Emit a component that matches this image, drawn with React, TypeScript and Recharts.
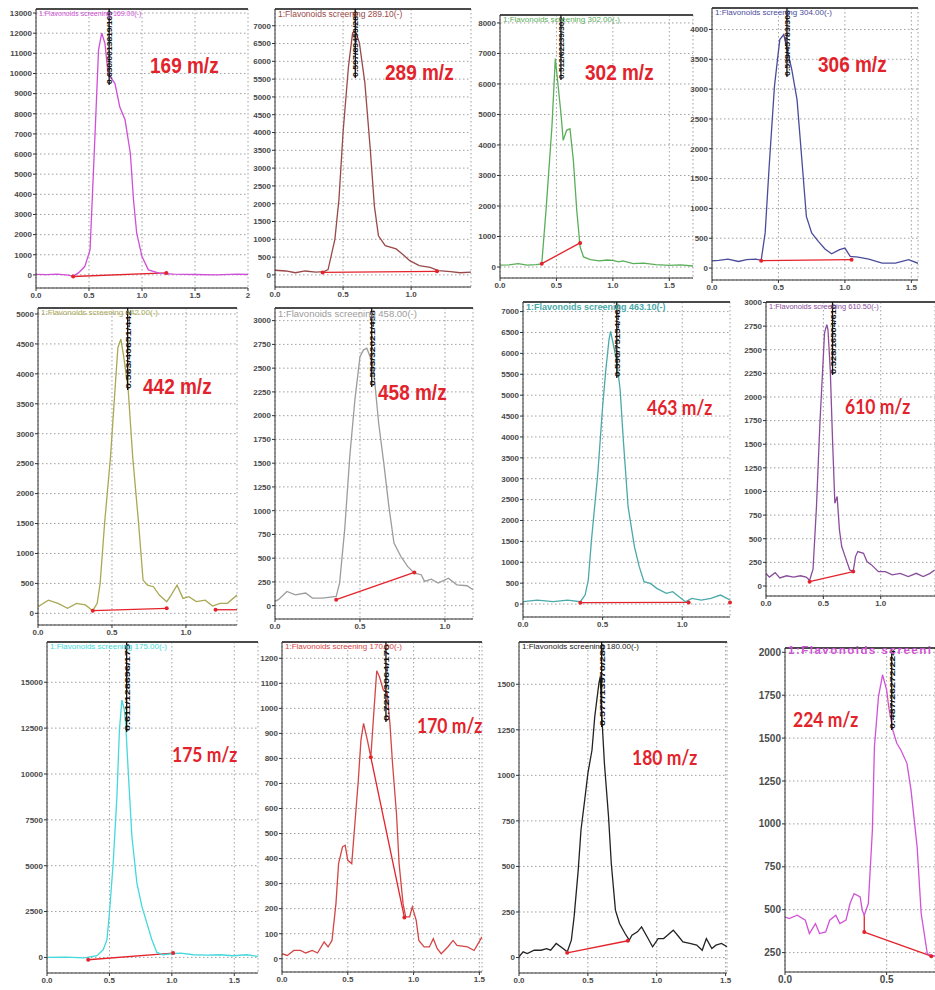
import React from "react";
import {
  CartesianGrid,
  Line,
  LineChart,
  ReferenceDot,
  ReferenceLine,
  XAxis,
  YAxis,
} from "recharts";

type Pt = [number, number];

// retention time (min) / intensity
const t169 = [0, 0.1, 0.2, 0.3, 0.35, 0.4, 0.46, 0.51, 0.557, 0.59, 0.62, 0.65, 0.68, 0.745, 0.79, 0.84, 0.89, 0.92, 0.95, 1.0, 1.06, 1.17, 1.3, 1.5, 1.7, 1.9, 2.0];
const i169 = [30, 10, 40, -10, -60, 100, 413, 1240, 7000, 11170, 12000, 11500, 10000, 9500, 8350, 7700, 6040, 3720, 2070, 910, 250, 80, 40, 20, 0, 40, 20];

const t289 = [0, 0.08, 0.15, 0.22, 0.3, 0.36, 0.39, 0.44, 0.47, 0.5, 0.54, 0.57, 0.59, 0.62, 0.66, 0.7, 0.73, 0.76, 0.81, 0.89, 0.95, 0.99, 1.06, 1.14, 1.2, 1.29, 1.36, 1.44];
const i289 = [130, 110, 60, 110, 80, 90, 150, 1000, 2130, 4000, 5860, 6800, 6850, 6520, 5400, 3530, 1940, 1100, 820, 730, 540, 400, 260, 210, 120, 90, 60, 80];

const t302 = [0, 0.08, 0.16, 0.24, 0.32, 0.37, 0.41, 0.46, 0.49, 0.51, 0.54, 0.56, 0.59, 0.62, 0.65, 0.68, 0.71, 0.74, 0.8, 0.88, 0.95, 1.0, 1.05, 1.09, 1.18, 1.27, 1.38, 1.5, 1.6, 1.71];
const i302 = [60, 70, 110, 60, 80, 100, 1970, 4590, 6830, 6120, 5030, 4150, 4480, 4535, 3500, 1860, 655, 330, 240, 200, 230, 220, 170, 200, 110, 130, 77, 55, 70, 33];

const t306 = [0, 0.05, 0.12, 0.2, 0.26, 0.33, 0.37, 0.4, 0.43, 0.47, 0.51, 0.54, 0.56, 0.6, 0.64, 0.66, 0.69, 0.71, 0.75, 0.8, 0.85, 0.9, 0.96, 1.0, 1.04, 1.1, 1.18, 1.28, 1.38, 1.48, 1.55];
const i306 = [120, 130, 150, 110, 140, 150, 130, 590, 1700, 3050, 3830, 3915, 3720, 3330, 2820, 2265, 1426, 867, 590, 447, 320, 240, 310, 336, 196, 185, 150, 84, 84, 140, 80];

const t442 = [0, 0.07, 0.135, 0.2, 0.26, 0.32, 0.37, 0.4, 0.42, 0.45, 0.49, 0.52, 0.54, 0.56, 0.58, 0.61, 0.64, 0.68, 0.71, 0.74, 0.78, 0.82, 0.87, 0.9, 0.94, 0.98, 1.02, 1.07, 1.13, 1.18, 1.23, 1.28, 1.345];
const i442 = [110, 220, 165, 83, 167, 140, 44, 167, 500, 1500, 2610, 3720, 4440, 4580, 4280, 3720, 2610, 1500, 555, 470, 444, 305, 195, 305, 470, 250, 278, 195, 220, 122, 167, 167, 305];

const t458 = [0, 0.02, 0.07, 0.12, 0.18, 0.22, 0.28, 0.36, 0.38, 0.41, 0.44, 0.47, 0.5, 0.52, 0.54, 0.56, 0.58, 0.61, 0.64, 0.67, 0.7, 0.74, 0.78, 0.82, 0.86, 0.88, 0.92, 0.96, 1.02, 1.07, 1.13, 1.165];
const i458 = [46, 63, 150, 115, 133, 80, 80, 98, 238, 800, 1570, 2166, 2620, 2690, 2710, 2620, 2480, 1920, 1500, 1045, 660, 520, 413, 343, 326, 256, 280, 238, 290, 220, 210, 168];

const t463 = [0, 0.09, 0.19, 0.28, 0.36, 0.39, 0.41, 0.43, 0.47, 0.5, 0.52, 0.54, 0.55, 0.57, 0.59, 0.61, 0.63, 0.66, 0.7, 0.73, 0.76, 0.8, 0.84, 0.9, 0.94, 0.98, 1.02, 1.06, 1.12, 1.18, 1.24, 1.3];
const i463 = [56, 96, 56, 96, 56, 216, 575, 1530, 3130, 4730, 5600, 6325, 6525, 6165, 5770, 5130, 3930, 2330, 1370, 895, 535, 495, 375, 255, 295, 175, 56, 136, 96, 136, 215, 96];

const t610 = [0, 0.03, 0.08, 0.12, 0.18, 0.24, 0.3, 0.35, 0.38, 0.41, 0.44, 0.47, 0.5, 0.51, 0.53, 0.54, 0.56, 0.58, 0.6, 0.62, 0.64, 0.66, 0.69, 0.73, 0.76, 0.78, 0.8, 0.85, 0.88, 0.92, 0.98, 1.04, 1.1, 1.17, 1.24, 1.31, 1.37, 1.43, 1.47];
const i610 = [132, 94, 141, 85, 108, 94, 108, 94, 61, 179, 841, 1724, 2430, 2678, 2766, 2714, 2290, 1548, 876, 947, 594, 417, 311, 170, 152, 311, 364, 346, 258, 223, 152, 152, 117, 134, 99, 134, 99, 134, 170];

const t175 = [0, 0.15, 0.3, 0.4, 0.45, 0.48, 0.5, 0.53, 0.56, 0.58, 0.6, 0.62, 0.63, 0.65, 0.68, 0.72, 0.76, 0.8, 0.84, 0.88, 0.93, 1.0, 1.07, 1.17, 1.28, 1.39, 1.49, 1.6, 1.69];
const i175 = [0, 20, -30, 90, 417, 960, 2410, 5135, 8765, 12395, 14030, 13485, 12760, 10218, 6590, 4050, 2780, 1870, 960, 272, 145, 200, 236, 145, 127, 145, 90, 145, 54];

const t170 = [0, 0.04, 0.09, 0.14, 0.18, 0.23, 0.27, 0.32, 0.35, 0.38, 0.41, 0.43, 0.46, 0.48, 0.5, 0.53, 0.55, 0.58, 0.6, 0.62, 0.65, 0.675, 0.7, 0.72, 0.74, 0.77, 0.8, 0.82, 0.84, 0.87, 0.89, 0.92, 0.94, 0.97, 0.99, 1.02, 1.04, 1.08, 1.12, 1.15, 1.18, 1.21, 1.26, 1.3, 1.33, 1.41, 1.46, 1.52];
const i170 = [20, 13, 33, 33, 23, 33, 23, 67, 47, 73, 220, 380, 447, 453, 393, 380, 513, 713, 873, 940, 870, 805, 1000, 1150, 1127, 1073, 1060, 940, 780, 580, 380, 220, 167, 167, 207, 153, 73, 47, 47, 80, 40, 20, 47, 73, 53, 47, 33, 87];

const t180 = [0, 0.03, 0.06, 0.11, 0.16, 0.2, 0.23, 0.27, 0.32, 0.35, 0.38, 0.4, 0.43, 0.45, 0.48, 0.5, 0.53, 0.55, 0.58, 0.59, 0.6, 0.62, 0.65, 0.67, 0.7, 0.73, 0.77, 0.8, 0.82, 0.86, 0.89, 0.93, 0.97, 1.01, 1.05, 1.08, 1.12, 1.16, 1.19, 1.24, 1.29, 1.33, 1.36, 1.4, 1.43, 1.47, 1.51];
const i180 = [4, 31, 22, 40, 40, 49, 40, 77, 49, 31, 95, 223, 480, 700, 883, 1011, 1139, 1322, 1505, 1542, 1340, 1066, 773, 516, 260, 187, 132, 95, 123, 141, 168, 114, 59, 104, 104, 123, 150, 114, 86, 77, 68, 40, 104, 49, 68, 77, 59];

const t224 = [0, 0.02, 0.06, 0.1, 0.12, 0.15, 0.17, 0.2, 0.22, 0.25, 0.27, 0.3, 0.32, 0.34, 0.37, 0.38, 0.39, 0.41, 0.43, 0.44, 0.46, 0.48, 0.5, 0.51, 0.53, 0.55, 0.57, 0.6, 0.62, 0.65, 0.67, 0.7, 0.72, 0.74];
const i224 = [458, 448, 468, 439, 361, 419, 361, 371, 439, 468, 419, 439, 536, 594, 575, 497, 468, 536, 964, 1450, 1742, 1869, 1781, 1684, 1548, 1470, 1431, 1353, 1197, 867, 478, 244, 234, 230];

// integration baselines (red)
const cut169: Pt[] = [[0.35, -80], [1.23, 100]];
const cut289: Pt[] = [[0.35, 70], [1.19, 100]];
const cut302: Pt[] = [[0.37, 110], [0.71, 790]];
const cut306: Pt[] = [[0.37, 123], [1.05, 140]];
const cut442: Pt[] = [[0.37, 44], [0.87, 83]];
const tail442: Pt[] = [[1.2, 60], [1.345, 60]];
const cut458: Pt[] = [[0.36, 63], [0.82, 350]];
const cut463: Pt[] = [[0.36, 32], [1.04, 40]];
const cut610: Pt[] = [[0.38, 46], [0.76, 152]];
const cut175: Pt[] = [[0.33, -127], [1.01, 236]];
const cut170: Pt[] = [[0.675, 805], [0.93, 165]];
const cut180: Pt[] = [[0.35, 26], [0.79, 92]];
const cut224: Pt[] = [[0.39, 470], [0.39, 370], [0.72, 229]];

// axis ticks
const ticksX169 = [0, 0.5, 1, 1.5, 2];
const ticksX15 = [0, 0.5, 1, 1.5];
const ticksX10 = [0, 0.5, 1];
const ticksX05 = [0, 0.5];
const ticksY169 = [0, 1000, 2000, 3000, 4000, 5000, 6000, 7000, 8000, 9000, 10000, 11000, 12000, 13000];
const ticksY289 = [0, 500, 1000, 1500, 2000, 2500, 3000, 3500, 4000, 4500, 5000, 5500, 6000, 6500, 7000];
const ticksY302 = [0, 1000, 2000, 3000, 4000, 5000, 6000, 7000, 8000];
const ticksY306 = [0, 500, 1000, 1500, 2000, 2500, 3000, 3500, 4000];
const ticksY442 = [0, 500, 1000, 1500, 2000, 2500, 3000, 3500, 4000, 4500, 5000];
const ticksY458 = [0, 250, 500, 750, 1000, 1250, 1500, 1750, 2000, 2250, 2500, 2750, 3000];
const ticksY175 = [0, 2500, 5000, 7500, 10000, 12500, 15000];
const ticksY170 = [0, 100, 200, 300, 400, 500, 600, 700, 800, 900, 1000, 1100, 1200];
const ticksY180 = [0, 250, 500, 750, 1000, 1250, 1500];
const ticksY224 = [250, 500, 750, 1000, 1250, 1500, 1750, 2000];

const RED = "#e3232b";
const ARIAL = "'Liberation Sans', Arial, sans-serif";
const CALIBRI = "Lato, 'Open Sans', sans-serif";

type PanelDef = {
  mz: string;
  title: string;
  peakText: string;
  times: number[];
  values: number[];
  xTicks: number[];
  yTicks: number[];
  cuts: Pt[][];
  marks?: Pt[];
  color: string;
  left: number;
  top: number;
  right: number;
  bottom: number;
  xMax: number;
  yMin: number;
  yMax: number;
  peakAt: number;
  peakLen: number;
  mzX: number;
  mzY: number;
  mzFont: string;
  mzSize: number;
  titleSize: number;
  titleBold?: boolean;
  titleDy?: number;
  titleSpacing?: number;
  tickFont?: number;
  yw?: number;
};

const panels: PanelDef[] = [
  {
    mz: "169 m/z", title: "1:Flavonoids screening 169.00(-)", peakText: "0.630/0013819/169",
    times: t169, values: i169, xTicks: ticksX169, yTicks: ticksY169, cuts: [cut169],
    color: "#d04fd8", left: 36, top: 9, right: 248, bottom: 288, xMax: 2, yMin: -650, yMax: 13200,
    peakAt: 0.69, peakLen: 76, mzX: 150, mzY: 66, mzFont: ARIAL, mzSize: 19, titleSize: 7,
  },
  {
    mz: "289 m/z", title: "1:Flavonoids screening 289.10(-)", peakText: "0.597/89459/289",
    times: t289, values: i289, xTicks: ticksX10, yTicks: ticksY289, cuts: [cut289],
    color: "#9a4848", left: 275, top: 9, right: 471, bottom: 287, xMax: 1.44, yMin: -340, yMax: 7470,
    peakAt: 0.59, peakLen: 69, mzX: 385, mzY: 73, mzFont: ARIAL, mzSize: 19, titleSize: 8.5,
  },
  {
    mz: "302 m/z", title: "1:Flavonoids screening 302.00(-)", peakText: "0.512/62239/302",
    times: t302, values: i302, xTicks: ticksX15, yTicks: ticksY302, cuts: [cut302],
    color: "#5aae5a", left: 500, top: 15, right: 693, bottom: 278, xMax: 1.71, yMin: -360, yMax: 8260,
    peakAt: 0.54, peakLen: 65, mzX: 585, mzY: 73, mzFont: ARIAL, mzSize: 19, titleSize: 8,
  },
  {
    mz: "306 m/z", title: "1:Flavonoids screening 304.00(-)", peakText: "0.539/45783/306",
    times: t306, values: i306, xTicks: ticksX15, yTicks: ticksY306, cuts: [cut306],
    color: "#4b4b9c", left: 712, top: 8, right: 918, bottom: 280, xMax: 1.55, yMin: -200, yMax: 4360,
    peakAt: 0.564, peakLen: 69, mzX: 818, mzY: 65, mzFont: ARIAL, mzSize: 19, titleSize: 8,
  },
  {
    mz: "442 m/z", title: "1:Flavonoids screening 442.00(-)", peakText: "0.563/40651/442",
    times: t442, values: i442, xTicks: ticksX10, yTicks: ticksY442, cuts: [cut442, tail442],
    marks: [[0.37, 44], [0.87, 83], [1.2, 60]],
    color: "#a9a853", left: 38, top: 308, right: 237, bottom: 625, xMax: 1.345, yMin: -195, yMax: 5100,
    peakAt: 0.606, peakLen: 82, mzX: 143, mzY: 387, mzFont: ARIAL, mzSize: 19, titleSize: 8,
  },
  {
    mz: "458 m/z", title: "1:Flavonoids screening 458.00(-)", peakText: "0.553/32021/458",
    times: t458, values: i458, xTicks: ticksX10, yTicks: ticksY458, cuts: [cut458],
    color: "#9c9c9c", left: 275, top: 308, right: 473, bottom: 619, xMax: 1.165, yMin: -140, yMax: 3133,
    peakAt: 0.569, peakLen: 79, mzX: 378, mzY: 393, mzFont: ARIAL, mzSize: 19, titleSize: 9.5,
  },
  {
    mz: "463 m/z", title: "1:Flavonoids screening 463.10(-)", peakText: "0.590/75154/463",
    times: t463, values: i463, xTicks: ticksX10, yTicks: ticksY289, cuts: [cut463],
    marks: [[0.36, 32], [1.04, 40], [1.3, 40]],
    color: "#4aa9a9", left: 523, top: 302, right: 730, bottom: 617, xMax: 1.3, yMin: -310, yMax: 7230,
    peakAt: 0.589, peakLen: 76, mzX: 647, mzY: 408, mzFont: CALIBRI, mzSize: 17.5, titleSize: 9, titleBold: true,
  },
  {
    mz: "610 m/z", title: "1:Flavonoids screening 610.50(-)", peakText: "0.528/16504/610",
    times: t610, values: i610, xTicks: ticksX10, yTicks: ticksY458, cuts: [cut610],
    color: "#8a4d9c", left: 766, top: 302, right: 935, bottom: 596, xMax: 1.473, yMin: -106, yMax: 3005,
    peakAt: 0.58, peakLen: 73, mzX: 845, mzY: 407, mzFont: CALIBRI, mzSize: 17.5, titleSize: 7.5,
  },
  {
    mz: "175 m/z", title: "1:Flavonoids screening 175.00(-)", peakText: "0.611/128696/175",
    times: t175, values: i175, xTicks: ticksX15, yTicks: ticksY175, cuts: [cut175],
    color: "#45d8dc", left: 47, top: 642, right: 258, bottom: 973, xMax: 1.69, yMin: -850, yMax: 17195,
    peakAt: 0.638, peakLen: 90, mzX: 172, mzY: 755, mzFont: CALIBRI, mzSize: 17.5, titleSize: 8,
  },
  {
    mz: "170 m/z", title: "1:Flavonoids screening 170.00(-)", peakText: "0.727/3064/170",
    times: t170, values: i170, xTicks: ticksX15, yTicks: ticksY170, cuts: [cut170],
    color: "#d44545", left: 282, top: 642, right: 482, bottom: 972, xMax: 1.52, yMin: -53, yMax: 1265,
    peakAt: 0.79, peakLen: 80, mzX: 417, mzY: 726, mzFont: CALIBRI, mzSize: 17.5, titleSize: 8,
  },
  {
    mz: "180 m/z", title: "1:Flavonoids screening 180.00(-)", peakText: "0.577/13970/280",
    times: t180, values: i180, xTicks: ticksX15, yTicks: ticksY180, cuts: [cut180],
    color: "#222222", left: 519, top: 642, right: 727, bottom: 973, xMax: 1.51, yMin: -85, yMax: 1732,
    peakAt: 0.6, peakLen: 85, mzX: 632, mzY: 758, mzFont: CALIBRI, mzSize: 17.5, titleSize: 8,
  },
  {
    mz: "224 m/z", title: "1:Flavonoids screeni", peakText: "0.487/26272/224",
    times: t224, values: i224, xTicks: ticksX05, yTicks: ticksY224, cuts: [cut224],
    marks: [[0.39, 370], [0.72, 229]],
    color: "#d152d6", left: 785, top: 648, right: 935, bottom: 972, xMax: 0.738, yMin: 137, yMax: 2025,
    peakAt: 0.525, peakLen: 82, mzX: 793, mzY: 720, mzFont: CALIBRI, mzSize: 17.5,
    titleSize: 11.5, titleBold: true, titleDy: -4, titleSpacing: 1.5, tickFont: 10, yw: 38,
  },
];

const fmtX = (v: number) => (v === 2 ? "2" : v.toFixed(1));

function PeakTag({ cx, cy, len, text }: { cx: number; cy: number; len: number; text: string }) {
  return (
    <g>
      <line x1={cx} y1={cy} x2={cx} y2={cy + len} stroke="#111" strokeWidth={1.3} />
      <text
        transform={`translate(${cx + 3},${cy + len - 1}) rotate(-90)`}
        fontSize={8}
        fontWeight={700}
        fontFamily={ARIAL}
        fill="#111"
        textLength={len - 3}
        lengthAdjust="spacingAndGlyphs"
      >
        {text}
      </text>
    </g>
  );
}

function Panel(p: PanelDef) {
  const yw = p.yw ?? 30;
  const xh = 14;
  const mr = 8;
  const mt = 7;
  const w = p.right - p.left + yw + mr;
  const h = p.bottom - p.top + xh + mt;
  const data = p.times.map((t, i) => ({ t, v: p.values[i] }));
  const marks = p.marks ?? p.cuts.flatMap((c) => [c[0], c[c.length - 1]]);
  const tf = p.tickFont ?? 8;
  const tick = { fontSize: tf, fill: "#4a4a4a", fontWeight: 700, fontFamily: ARIAL };

  return (
    <>
      <div style={{ position: "absolute", left: p.left - yw, top: p.top - mt, width: w, height: h }}>
        <LineChart width={w} height={h} data={data} margin={{ top: mt, right: mr, bottom: 0, left: 0 }}>
          <CartesianGrid stroke="#a0a0a0" strokeDasharray="1.5 2.5" />
          <XAxis
            dataKey="t"
            type="number"
            domain={[0, p.xMax]}
            ticks={p.xTicks}
            interval={0}
            allowDataOverflow
            height={xh}
            tick={tick}
            tickFormatter={fmtX}
            tickSize={3}
            tickMargin={1}
            stroke="#333"
          />
          <YAxis
            type="number"
            domain={[p.yMin, p.yMax]}
            ticks={p.yTicks}
            interval={0}
            allowDataOverflow
            width={yw}
            tick={tick}
            tickSize={3}
            tickMargin={1}
            stroke="#333"
          />
          <ReferenceLine y={p.yMax} stroke="#4a4a4a" strokeWidth={2} />
          {p.cuts.flatMap((c, ci) =>
            c.slice(1).map((pt, k) => (
              <ReferenceLine
                key={`c${ci}-${k}`}
                segment={[
                  { x: c[k][0], y: c[k][1] },
                  { x: pt[0], y: pt[1] },
                ]}
                stroke={RED}
                strokeWidth={1.3}
              />
            ))
          )}
          <Line
            type="linear"
            dataKey="v"
            stroke={p.color}
            strokeWidth={1.3}
            dot={false}
            isAnimationActive={false}
          />
          {marks.map((m, k) => (
            <ReferenceDot key={`m${k}`} x={m[0]} y={m[1]} r={2} fill={RED} stroke="none" />
          ))}
          <ReferenceDot
            x={p.peakAt}
            y={p.yMax}
            r={1}
            ifOverflow="visible"
            shape={(s: any) => <PeakTag cx={s.cx} cy={s.cy} len={p.peakLen} text={p.peakText} />}
          />
        </LineChart>
      </div>
      <div
        style={{
          position: "absolute",
          left: p.left + 3,
          top: p.top + 1 + (p.titleDy ?? 0),
          fontSize: p.titleSize,
          lineHeight: 1,
          fontWeight: p.titleBold ? 700 : 400,
          letterSpacing: p.titleSpacing ?? 0,
          color: p.color,
          fontFamily: ARIAL,
          whiteSpace: "nowrap",
        }}
      >
        {p.title}
      </div>
      <div
        style={{
          position: "absolute",
          left: p.mzX,
          top: p.mzY - 11,
          fontSize: p.mzSize,
          lineHeight: "22px",
          fontWeight: 700,
          color: RED,
          fontFamily: p.mzFont,
          whiteSpace: "nowrap",
          transform: "scaleY(1.15)",
        }}
      >
        {p.mz}
      </div>
    </>
  );
}

export default function App() {
  return (
    <div
      style={{
        position: "absolute",
        left: 0,
        top: 0,
        width: 935,
        height: 990,
        overflow: "hidden",
        background: "#fff",
      }}
    >
      {panels.map((p) => (
        <Panel key={p.mz} {...p} />
      ))}
    </div>
  );
}
